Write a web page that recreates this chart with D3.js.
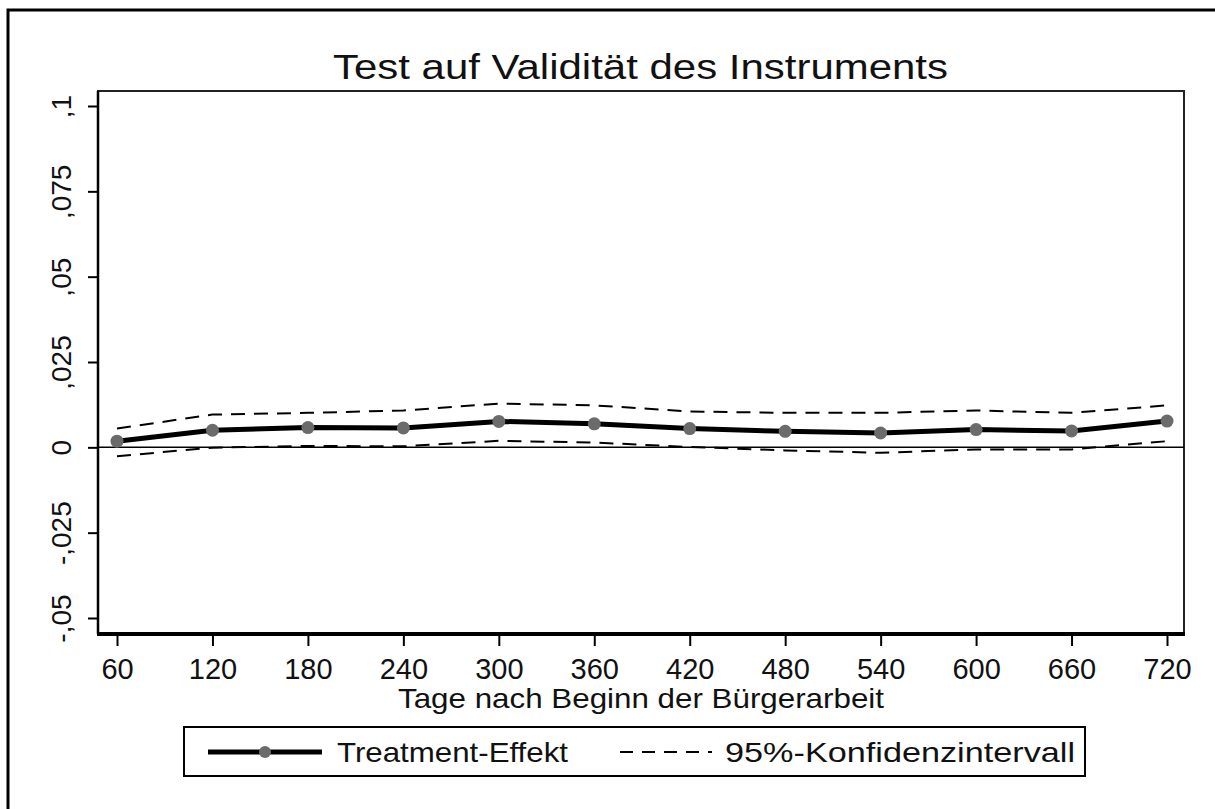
<!DOCTYPE html>
<html>
<head>
<meta charset="utf-8">
<script src="https://cdn.jsdelivr.net/npm/d3@7"></script>
<style>
  body { margin: 0; background: #fff; }
  svg text { font-family: "Liberation Sans", Arial, sans-serif; fill: #111; }
</style>
</head>
<body>
<svg id="chart" width="1215" height="809"></svg>
<script>
const days = [60, 120, 180, 240, 300, 360, 420, 480, 540, 600, 660, 720];
const effect = [0.0018, 0.0050, 0.0058, 0.0057, 0.0076, 0.0069, 0.0055, 0.0047, 0.0042, 0.0052, 0.0048, 0.0077];
const upper = [0.0055, 0.0096, 0.0101, 0.0108, 0.0128, 0.0123, 0.0105, 0.0101, 0.0101, 0.0108, 0.0101, 0.0123];
const lower = [-0.0026, -0.0001, 0.0004, 0.0003, 0.0019, 0.0014, 0.0001, -0.0009, -0.0016, -0.0006, -0.0006, 0.0018];
const yTicks = [-0.05, -0.025, 0, 0.025, 0.05, 0.075, 0.1];

const FONT = "Liberation Sans, Arial, sans-serif";
const svg = d3.select("#chart");

// outer frame of the graph region
svg.append("rect")
  .attr("x", 8).attr("y", 10)
  .attr("width", 1230).attr("height", 830)
  .attr("fill", "none").attr("stroke", "#000").attr("stroke-width", 3);

const plot = { left: 98, right: 1184, top: 91, bottom: 634 };

const x = d3.scaleLinear().domain([60, 720]).range([117, 1167]);
const y = d3.scaleLinear().domain([-0.05, 0.1]).range([618, 106]);

const fmt = v => v === 0 ? "0" : String(v).replace("0.", ",");

// title (Stata font is wider, so stretch to the reference width)
svg.append("text")
  .attr("x", 333).attr("y", 79)
  .attr("font-size", 35)
  .attr("textLength", 615).attr("lengthAdjust", "spacingAndGlyphs")
  .text("Test auf Validität des Instruments");

// plot box
svg.append("rect")
  .attr("x", plot.left).attr("y", plot.top)
  .attr("width", plot.right - plot.left).attr("height", plot.bottom - plot.top)
  .attr("fill", "none").attr("stroke", "#222").attr("stroke-width", 2);

// y axis
const yAxis = svg.append("g")
  .attr("transform", `translate(${plot.left},0)`)
  .call(d3.axisLeft(y).tickValues(yTicks).tickSize(10).tickFormat(fmt))
  .attr("font-family", FONT);
yAxis.select(".domain").remove();
yAxis.selectAll(".tick line").attr("stroke", "#000").attr("stroke-width", 2);
yAxis.selectAll(".tick text")
  .attr("x", 0).attr("dy", null)
  .attr("text-anchor", "middle")
  .attr("transform", "translate(-27,0) rotate(-90)")
  .attr("font-size", 28)
  .attr("fill", "#111");
svg.append("line")
  .attr("x1", plot.left).attr("x2", plot.left)
  .attr("y1", plot.top).attr("y2", plot.bottom)
  .attr("stroke", "#000").attr("stroke-width", 2.5);

// x axis
const xAxis = svg.append("g")
  .attr("transform", `translate(0,${plot.bottom})`)
  .call(d3.axisBottom(x).tickValues(days).tickSize(12).tickFormat(d3.format("d")))
  .attr("font-family", FONT);
xAxis.select(".domain").remove();
xAxis.selectAll(".tick line").attr("stroke", "#000").attr("stroke-width", 2);
xAxis.selectAll(".tick text")
  .attr("y", 45).attr("dy", null)
  .attr("font-size", 29)
  .attr("fill", "#111");
svg.append("line")
  .attr("x1", plot.left - 1).attr("x2", plot.right + 1)
  .attr("y1", plot.bottom).attr("y2", plot.bottom)
  .attr("stroke", "#000").attr("stroke-width", 4);

svg.append("text")
  .attr("x", 398).attr("y", 708)
  .attr("font-size", 28)
  .attr("textLength", 486).attr("lengthAdjust", "spacingAndGlyphs")
  .text("Tage nach Beginn der Bürgerarbeit");

// zero line
svg.append("line")
  .attr("x1", plot.left).attr("x2", plot.right)
  .attr("y1", y(0)).attr("y2", y(0))
  .attr("stroke", "#000").attr("stroke-width", 1.5);

const rows = days.map((d, i) => ({ day: d, eff: effect[i], up: upper[i], lo: lower[i] }));

const lineFor = key => d3.line().x(d => x(d.day)).y(d => y(d[key]));
["up", "lo"].forEach(k => {
  svg.append("path")
    .datum(rows)
    .attr("d", lineFor(k))
    .attr("fill", "none")
    .attr("stroke", "#000")
    .attr("stroke-width", 2)
    .attr("stroke-dasharray", "14,9");
});

svg.append("path")
  .datum(rows)
  .attr("d", lineFor("eff"))
  .attr("fill", "none")
  .attr("stroke", "#000")
  .attr("stroke-width", 5);

svg.append("g")
  .selectAll("circle")
  .data(rows)
  .enter()
  .append("circle")
  .attr("cx", d => x(d.day))
  .attr("cy", d => y(d.eff))
  .attr("r", 6.5)
  .attr("fill", "#6b6b6b");

// legend
const legend = svg.append("g");
legend.append("rect")
  .attr("x", 184).attr("y", 727)
  .attr("width", 901).attr("height", 49)
  .attr("fill", "#fff").attr("stroke", "#000").attr("stroke-width", 2);
legend.append("line")
  .attr("x1", 208).attr("x2", 322).attr("y1", 752).attr("y2", 752)
  .attr("stroke", "#000").attr("stroke-width", 5);
legend.append("circle")
  .attr("cx", 265).attr("cy", 752).attr("r", 6)
  .attr("fill", "#6b6b6b");
legend.append("text")
  .attr("x", 337).attr("y", 762)
  .attr("font-size", 28)
  .attr("textLength", 231).attr("lengthAdjust", "spacingAndGlyphs")
  .text("Treatment-Effekt");
legend.append("line")
  .attr("x1", 620).attr("x2", 712).attr("y1", 752).attr("y2", 752)
  .attr("stroke", "#000").attr("stroke-width", 2)
  .attr("stroke-dasharray", "13,9");
legend.append("text")
  .attr("x", 725).attr("y", 762)
  .attr("font-size", 28)
  .attr("textLength", 350).attr("lengthAdjust", "spacingAndGlyphs")
  .text("95%-Konfidenzintervall");
</script>
</body>
</html>
